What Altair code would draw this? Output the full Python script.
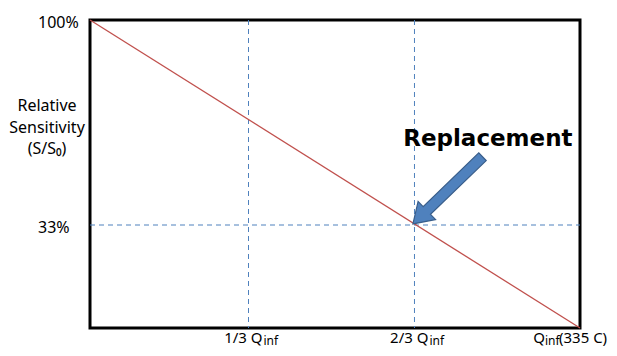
import altair as alt
import pandas as pd

# ---- data ----
line_x = [0.0, 1.0]            # fraction of Q_inf
line_y = [100, 0]              # relative sensitivity (%)
vline_x = [0.3235, 0.6622]     # 1/3 Q_inf, 2/3 Q_inf guide lines
hline_y = [33.44]              # 33 % guide line
ytick_vals = [100, 33.44]
ytick_labels = ["100%", "33%"]
xlab_main = ["1/3 Q", "2/3 Q"]
xlab_last = "Q"
xlab_last_tail = "(335 C)"
sub_text = "inf"
title_lines = ["Relative", "Sensitivity", "(S/S₀)"]
callout_text = ["Replacement"]
callout_pos = [0.812, 59.1]
arrow_pos = [0.730, 44.7]

W, H = 490, 308
xs = alt.Scale(domain=[0, 1], nice=False, zero=False)
ys = alt.Scale(domain=[0, 100], nice=False, zero=False)

def X(f="x"):
    return alt.X(f"{f}:Q", scale=xs, axis=None)

def Y(f="y"):
    return alt.Y(f"{f}:Q", scale=ys, axis=None)

red = "#C0504D"
blue = "#4F81BD"
font = "Noto Sans"

df_line = pd.DataFrame({"x": line_x, "y": line_y})
df_v = pd.DataFrame({"x": vline_x + vline_x, "y": [100] * len(vline_x) + [0] * len(vline_x),
                     "g": list(range(len(vline_x))) * 2})
df_h = pd.DataFrame({"x": [0, 1], "y": hline_y * 2})

vlines = alt.Chart(df_v).mark_line(color=blue, strokeWidth=1, strokeDash=[5, 4]).encode(
    x=X(), y=Y(), detail="g:N")
hline = alt.Chart(df_h).mark_line(color=blue, strokeWidth=1, strokeDash=[5, 4]).encode(
    x=X(), y=Y())
redline = alt.Chart(df_line).mark_line(color=red, strokeWidth=1.3).encode(x=X(), y=Y())

df_yt = pd.DataFrame({"x": [0] * len(ytick_vals), "y": ytick_vals, "t": ytick_labels})
yticks = alt.Chart(df_yt).mark_text(align="left", baseline="alphabetic", dx=-52, dy=8,
                                    font=font, fontSize=16, color="black").encode(
    x=X(), y=Y(), text="t:N")

df_title = pd.DataFrame({"x": [0], "y": [70.45]})
ytitle = alt.Chart(df_title).mark_text(text=title_lines, align="center", baseline="alphabetic",
                                       dx=-43, lineHeight=21.5, font=font, fontSize=16,
                                       color="black").encode(x=X(), y=Y())

df_xl = pd.DataFrame({"x": vline_x, "y": [0] * len(vline_x), "t": xlab_main,
                      "s": [sub_text] * len(vline_x)})
xl_main = alt.Chart(df_xl).mark_text(align="right", baseline="alphabetic", dx=14, dy=15,
                                     font=font, fontSize=15, color="black").encode(
    x=X(), y=Y(), text="t:N")
xl_sub = alt.Chart(df_xl).mark_text(align="left", baseline="alphabetic", dx=15, dy=17,
                                    font=font, fontSize=12, color="black").encode(
    x=X(), y=Y(), text="s:N")

df_last = pd.DataFrame({"x": [1.0], "y": [0], "t": [xlab_last], "s": [sub_text],
                        "u": [xlab_last_tail]})
xl_last = alt.Chart(df_last).mark_text(align="right", baseline="alphabetic", dx=-35, dy=15,
                                       font=font, fontSize=15, color="black").encode(
    x=X(), y=Y(), text="t:N")
xl_last_sub = alt.Chart(df_last).mark_text(align="left", baseline="alphabetic", dx=-35, dy=17,
                                           font=font, fontSize=12, color="black").encode(
    x=X(), y=Y(), text="s:N")
xl_last_tail = alt.Chart(df_last).mark_text(align="left", baseline="alphabetic", dx=-21, dy=15,
                                            font=font, fontSize=15, color="black").encode(
    x=X(), y=Y(), text="u:N")

df_call = pd.DataFrame({"x": [callout_pos[0]], "y": [callout_pos[1]], "t": callout_text})
callout = alt.Chart(df_call).mark_text(align="center", baseline="alphabetic",
                                       font="DejaVu Sans", fontWeight="bold", fontSize=23,
                                       color="black").encode(x=X(), y=Y(), text="t:N")

arrow_path = ("M -1 -0.11 L 0.6 -0.11 L 0.6 -0.26 L 1 0 L 0.6 0.26 L 0.6 0.11 "
              "L -1 0.11 Z")
df_arrow = pd.DataFrame({"x": [arrow_pos[0]], "y": [arrow_pos[1]]})
arrow = alt.Chart(df_arrow).mark_point(shape=arrow_path, filled=True, fill=blue,
                                       stroke="#385D8A", strokeWidth=1.2, size=9350,
                                       angle=136, opacity=1).encode(x=X(), y=Y())

chart = alt.layer(vlines, hline, redline, arrow, callout, yticks, ytitle,
                  xl_main, xl_sub, xl_last, xl_last_sub, xl_last_tail).properties(
    width=W, height=H,
    autosize=alt.AutoSizeParams(type="none"),
    padding={"left": 82, "top": 12, "right": 29, "bottom": 20},
    background="white",
).configure_view(stroke="black", strokeWidth=3)

chart.save("out.html", embed_options={"renderer": "svg", "actions": False})
